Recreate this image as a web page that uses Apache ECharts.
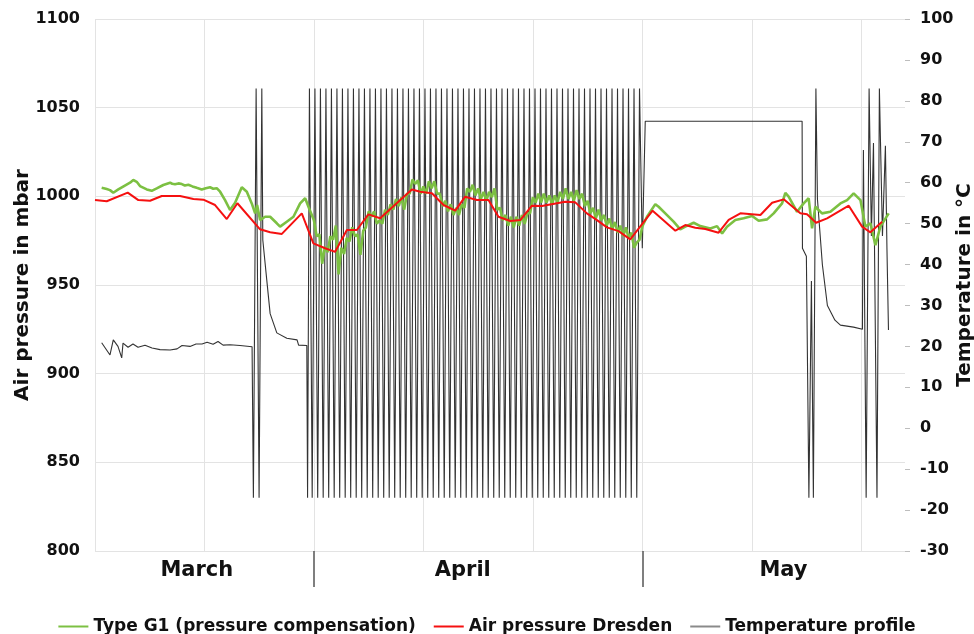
<!DOCTYPE html>
<html>
<head>
<meta charset="utf-8">
<script src="https://cdn.jsdelivr.net/npm/echarts@6.0.0/dist/echarts.min.js"></script>
<style>
  html, body { margin: 0; padding: 0; background: #fff; }
  #chart { width: 974px; height: 634px; }
</style>
</head>
<body>
<div id="chart"></div>
<script>
// x values are days counted from 12 March
const monthNames = ['March', 'April', 'May']
const monthBounds = [20, 50]
const monthLabelDays = [9.3, 33.6, 62.9]

// Air pressure Dresden [day, mbar]
const dresden = [
  [0.0, 997.9], [1.07, 997.2], [2.99, 1002.1], [3.96, 997.9], [5.03, 997.5], [6.10, 1000.2],
  [7.77, 1000.2], [8.99, 998.5], [9.90, 998.1], [10.97, 995.1], [12.04, 987.2], [13.01, 996.1],
  [15.08, 981.4], [16.0, 979.7], [17.07, 978.8], [18.89, 990.4], [19.95, 973.5], [21.02, 970.7],
  [21.94, 968.7], [23.01, 981.0], [23.92, 981.0], [24.98, 989.8], [26.05, 987.6], [28.95, 1003.9],
  [29.71, 1002.6], [30.78, 1001.7], [31.84, 995.1], [32.91, 991.9], [33.82, 999.8], [34.89, 997.9],
  [35.95, 997.9], [36.86, 988.5], [37.93, 986.1], [38.85, 986.6], [39.92, 994.7], [40.83, 994.5],
  [42.96, 996.9], [43.88, 996.6], [44.94, 990.4], [45.86, 986.6], [46.77, 982.5], [47.83, 980.4],
  [48.90, 975.7], [50.94, 991.9], [53.02, 980.6], [53.93, 983.8], [54.84, 982.3], [55.76, 981.6],
  [56.97, 979.5], [57.89, 986.7], [58.96, 990.4], [60.79, 989.5], [61.86, 996.4], [62.92, 998.3],
  [64.44, 990.4], [65.05, 989.9], [65.88, 985.1], [66.88, 987.6], [68.86, 994.7], [70.08, 982.9],
  [70.84, 979.7], [71.91, 985.7]
]

// Type G1 [day, mbar], March part
const g1March = [
  [0.61, 1004.8], [1.07, 1004.1], [1.37, 1003.5], [1.67, 1002.0], [2.13, 1003.9], [2.65, 1005.8],
  [3.20, 1007.7], [3.50, 1009.2], [3.81, 1008.2], [4.11, 1005.8], [4.73, 1003.9], [5.18, 1003.1],
  [5.64, 1004.5], [6.24, 1006.4], [6.86, 1007.7], [7.05, 1007.1], [7.31, 1006.8], [7.62, 1007.3],
  [7.93, 1006.9], [8.21, 1006.1], [8.53, 1006.5], [8.90, 1005.6], [9.29, 1004.8], [9.75, 1003.9],
  [10.12, 1004.6], [10.51, 1005.1], [10.80, 1004.3], [11.12, 1004.6], [11.43, 1002.6], [11.88, 997.9],
  [12.34, 992.3], [12.80, 996.4], [13.41, 1005.1], [13.87, 1002.6], [14.32, 996.0], [14.63, 990.4],
  [14.81, 995.1], [15.08, 986.6], [15.54, 988.5], [16.0, 988.5], [16.61, 984.8], [16.91, 982.9],
  [17.52, 985.7], [18.13, 988.5], [18.74, 996.0], [19.20, 998.9], [19.50, 994.1]
]
// Type G1 in April, read every quarter day
const g1AprilStart = 20.0
const g1AprilStep = 0.25
const g1AprilValues = [
  986.5, 977.5, 978.5, 962, 971.5, 968.5, 977.5, 975.5,
  983.5, 956, 971, 967.5, 976.5, 974.5, 982.5, 977.5,
  978.5, 967, 980.5, 982.5, 991.5, 988.5, 991.5, 984.5,
  986.5, 984.5, 992.5, 989.5, 995.5, 992.5, 998.5, 994.5,
  999.5, 992.5, 1001.5, 1001.5, 1009.5, 1007, 1009, 1001.5,
  1005.5, 1001.5, 1008.5, 1004.5, 1008.5, 1001.5, 1001.5, 994.5,
  997.5, 991.5, 995.5, 989.5, 993.5, 989.5, 995.5, 993.5,
  1004.5, 1002.5, 1006.5, 1000.5, 1004.5, 998.5, 1002.5, 997.5,
  1002.5, 999.5, 1004.5, 992.5, 993.5, 986.5, 989.5, 983.5,
  988.5, 982.5, 988.5, 983.5, 989.5, 984.5, 990.5, 990.5,
  999.5, 996.5, 1001.5, 996.5, 1001.5, 996.5, 1000.5, 995.5,
  1000.5, 996.5, 1002.5, 998.5, 1004.5, 998.5, 1002.5, 997.5,
  1003.5, 998.5, 1001.5, 994.5, 997.5, 990.5, 993.5, 987.5,
  992.5, 986.5, 989.5, 983.5, 987.5, 981.5, 985.5, 979.5,
  983.5, 977.5, 982.5, 976.5, 979.5, 971, 974, 975.5,
  983
]
// Type G1, May part
const g1May = [
  [50.43, 988.5], [51.19, 995.6], [51.49, 994.1], [52.10, 990.4], [52.86, 985.7], [53.47, 981.4],
  [53.93, 982.9], [54.69, 985.1], [55.30, 983.2], [56.22, 981.9], [56.83, 983.2], [57.29, 979.1],
  [57.74, 982.9], [58.50, 986.6], [59.26, 987.6], [60.03, 988.9], [60.63, 986.2], [61.40, 987.0],
  [62.00, 990.4], [62.77, 996.0], [63.07, 1002.0], [63.37, 999.8], [64.14, 991.3], [64.74, 996.0],
  [65.20, 998.9], [65.51, 982.0], [65.81, 994.1], [66.42, 990.4], [67.18, 991.3], [68.10, 996.0],
  [68.71, 997.9], [69.31, 1001.7], [69.93, 997.9], [70.38, 982.9], [70.84, 984.8], [71.30, 972.5],
  [71.75, 982.9], [72.51, 990.4]
]

// Temperature profile [day, °C]
const tempMarch = [
  [0.61, 20.9], [1.37, 17.9], [1.67, 21.6], [2.10, 20.0], [2.44, 17.2], [2.56, 20.8], [3.02, 19.8],
  [3.47, 20.6], [3.93, 19.8], [4.57, 20.3], [5.21, 19.6], [5.94, 19.2], [6.86, 19.1], [7.50, 19.4],
  [7.95, 20.2], [8.68, 20.0], [9.23, 20.6], [9.78, 20.6], [10.24, 21.0], [10.79, 20.5], [11.24, 21.2],
  [11.70, 20.3], [12.34, 20.4], [13.25, 20.2], [14.35, 19.9], [14.47, -17], [14.72, 83], [14.99, -17],
  [15.24, 83], [15.33, 46], [15.70, 36], [16.00, 28], [16.61, 23.3], [17.52, 22.0], [18.46, 21.6],
  [18.60, 20.3], [19.35, 20.2], [19.42, -17]
]
// April heating cycles, one turning point every quarter day
const tempCycleStart = 19.59
const tempCycleStep = 0.2513
const tempCycleValues = [
  83, -17, 83, -17, 83, -17, 83, -17, 83, -17,
  83, -17, 83, -17, 83, -17, 83, -17, 83, -17,
  83, -17, 83, -17, 83, -17, 83, -17, 83, -17,
  83, -17, 83, -17, 83, -17, 83, -17, 83, -17,
  83, -17, 83, -17, 83, -17, 83, -17, 83, -17,
  83, -17, 83, -17, 83, -17, 83, -17, 83, -17,
  83, -17, 83, -17, 83, -17, 83, -17, 83, -17,
  83, -17, 83, -17, 83, -17, 83, -17, 83, -17,
  83, -17, 83, -17, 83, -17, 83, -17, 83, -17,
  83, -17, 83, -17, 83, -17, 83, -17, 83, -17,
  83, -17, 83, -17, 83, -17, 83, -17, 83, -17,
  83, -17, 83, -17, 83, -17, 83, -17, 83, -17,
  83
]
const tempMay = [
  [50.0, 44], [50.27, 75], [64.60, 75], [64.63, 44], [64.99, 42], [65.22, -17], [65.45, 36],
  [65.63, -17], [65.86, 83], [66.0, 56], [66.45, 40], [66.91, 30], [67.6, 26.4], [68.1, 25.2],
  [69.3, 24.7], [70.11, 24.2], [70.2, 68], [70.45, -17], [70.72, 83], [70.93, 47], [71.12, 69.7],
  [71.44, -17], [71.66, 83], [71.94, 47], [72.21, 69], [72.35, 44], [72.49, 24]
]

const font = 'DejaVu Sans'
const textColor = '#111'
const gridColor = '#e3e3e3'

const g1Data = g1March.concat(
  g1AprilValues.map((v, i) => [g1AprilStart + i * g1AprilStep, v]),
  g1May
)
const tempData = tempMarch.concat(
  tempCycleValues.map((v, i) => [tempCycleStart + i * tempCycleStep, v]),
  tempMay
)

function monthName(v) {
  let best = 0
  monthLabelDays.forEach((d, i) => {
    if (Math.abs(d - v) < Math.abs(monthLabelDays[best] - v)) best = i
  })
  return monthNames[best]
}

const chart = echarts.init(document.getElementById('chart'))
chart.setOption({
  animation: false,
  textStyle: { fontFamily: font },
  grid: { left: 95, right: 69, top: 19, bottom: 83, outerBoundsMode: 'none', containLabel: false },
  legend: {
    top: 613,
    left: 'center',
    icon: 'rect',
    itemWidth: 30,
    itemHeight: 2,
    itemGap: 18,
    textStyle: { fontSize: 17, fontWeight: 'bold', color: textColor, fontFamily: font },
    data: [
      'Type G1 (pressure compensation)',
      'Air pressure Dresden',
      { name: 'Temperature profile', itemStyle: { color: '#8a8a8a' } }
    ]
  },
  xAxis: [
    {
      type: 'value', min: 0, max: 74, interval: 10,
      axisLine: { show: false, onZero: false },
      axisTick: { show: false },
      axisLabel: { show: false },
      splitLine: { show: true, showMaxLine: false, lineStyle: { color: gridColor } }
    },
    {
      type: 'value', min: 0, max: 74, position: 'bottom',
      axisLine: { show: false, onZero: false },
      axisTick: {
        show: true, customValues: monthBounds, length: 36,
        lineStyle: { color: '#555', width: 1.5 }
      },
      axisLabel: {
        show: true,
        customValues: monthLabelDays,
        formatter: monthName,
        margin: 9,
        fontSize: 21, fontWeight: 'bold', color: textColor, fontFamily: font
      },
      splitLine: { show: false }
    }
  ],
  yAxis: [
    {
      type: 'value', min: 800, max: 1100, interval: 50,
      name: 'Air pressure in mbar', nameLocation: 'middle', nameGap: 62, nameRotate: 90,
      nameMoveOverlap: false,
      nameTextStyle: { fontSize: 20, fontWeight: 'bold', color: textColor, fontFamily: font },
      axisLine: { show: false, onZero: false },
      axisTick: { show: false },
      axisLabel: {
        fontSize: 16, fontWeight: 'bold', color: textColor, margin: 15, fontFamily: font,
        formatter: v => String(v)
      },
      splitLine: { lineStyle: { color: gridColor } }
    },
    {
      type: 'value', min: -30, max: 100, interval: 10, position: 'right',
      name: 'Temperature in °C', nameLocation: 'middle', nameGap: 50, nameRotate: 90,
      nameMoveOverlap: false,
      nameTextStyle: { fontSize: 20, fontWeight: 'bold', color: textColor, fontFamily: font },
      axisLine: { show: false, onZero: false },
      axisTick: { show: true, length: 5, lineStyle: { color: '#bdbdbd' } },
      axisLabel: {
        fontSize: 16, fontWeight: 'bold', color: textColor, margin: 15, fontFamily: font,
        formatter: v => String(v)
      },
      splitLine: { show: false }
    }
  ],
  series: [
    {
      name: 'Temperature profile', type: 'line', yAxisIndex: 1, symbol: 'none', z: 1,
      lineStyle: { color: '#333', width: 1.1 }, itemStyle: { color: '#8a8a8a' },
      data: tempData
    },
    {
      name: 'Type G1 (pressure compensation)', type: 'line', yAxisIndex: 0, symbol: 'none', z: 2,
      lineStyle: { color: '#7cc042', width: 2.6 }, itemStyle: { color: '#7cc042' },
      data: g1Data
    },
    {
      name: 'Air pressure Dresden', type: 'line', yAxisIndex: 0, symbol: 'none', z: 3,
      lineStyle: { color: '#f51010', width: 2 }, itemStyle: { color: '#f51010' },
      data: dresden
    }
  ]
})
</script>
</body>
</html>
